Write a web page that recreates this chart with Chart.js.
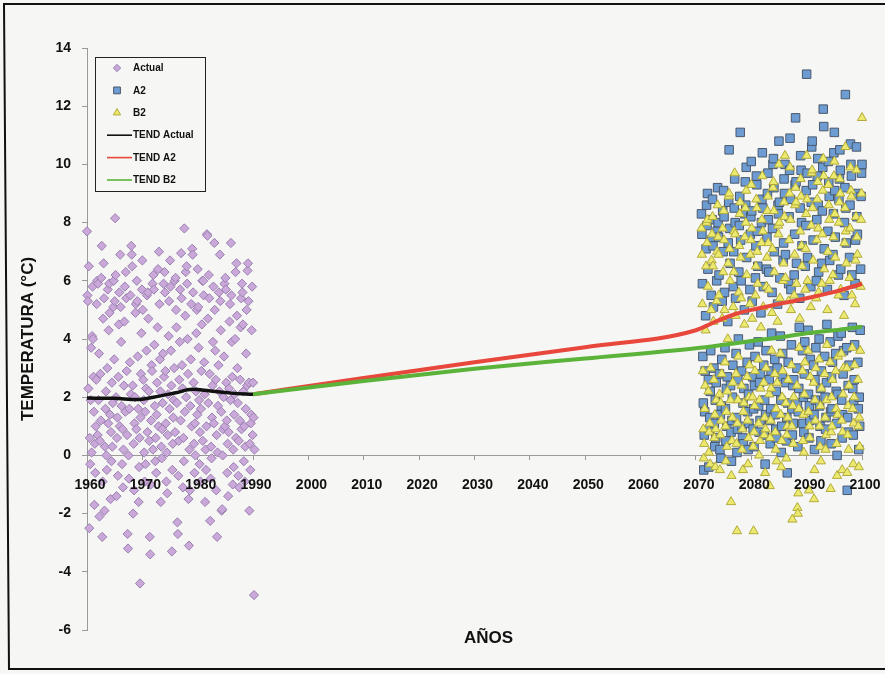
<!DOCTYPE html>
<html>
<head>
<meta charset="utf-8">
<title>Temperatura mensual: actual y escenarios A2 / B2</title>
<script src="https://cdn.jsdelivr.net/npm/chart.js@4/dist/chart.umd.min.js"></script>
<style>
  html, body { margin: 0; padding: 0; background: #f6f6f4; }
  #wrap { width: 885px; height: 674px; position: relative; }
</style>
</head>
<body>
<div id="wrap"><canvas id="c" width="885" height="674"></canvas></div>
<script>
// ---- Monthly temperatures (°C) ----
// Observed period, one value per month starting January 1960
const actualStart = 1960;
const actualTemps = [
  7.7, 5.5, 5.3, 2.3, 6.5, -2.5, 0.6, -0.3, 1.9, 3.7, 0.1, 4.1,
  5.8, 4.0, 2.7, 1.5, -1.7, 0.4, -0.6, 1.0, 2.6, 5.2, 6.0, 0.7,
  5.9, 1.9, 3.5, -2.1, 0.5, 2.8, 1.2, 6.1, 7.2, -2.8, -0.9, 4.7,
  6.6, 5.4, -1.9, 0.3, 1.6, 2.2, 0.0, -0.5, 3.0, 5.7, 1.1, 4.3,
  5.9, 4.9, 1.4, -1.5, 0.8, -0.2, 2.5, 0.3, 1.8, 5.1, 6.0, 3.3,
  5.3, 8.15, 6.2, 2.0, -1.4, 0.6, 1.3, -0.7, 2.7, 4.5, 5.6, 1.0,
  6.9, 5.1, 3.9, 1.7, -0.3, 0.9, -1.1, 0.2, 2.4, 4.6, 5.8, 1.5,
  6.3, 5.4, 2.9, 0.7, -2.7, -3.2, 0.0, -0.8, 1.6, 3.2, 5.5, 2.1,
  7.2, 6.9, 6.5, 2.4, -2.0, 0.4, -1.2, 1.1, 2.0, 4.9, 5.2, 0.9,
  6.0, 5.3, 3.4, 1.6, -1.6, -0.4, 0.6, -4.4, 1.3, 2.8, 4.2, 5.7,
  6.7, 5.0, 2.6, 1.9, 0.1, -0.9, 1.5, -0.3, 2.3, 3.6, 5.5, 0.8,
  5.6, 4.7, 2.2, 0.5, -2.8, -3.4, -1.0, 1.2, 3.1, 2.9, 5.9, 0.2,
  6.2, 5.7, 3.8, 1.7, -0.2, 0.6, -0.6, 1.4, 2.5, 4.4, 6.4, 1.0,
  7.0, 5.2, 3.3, 2.2, -1.6, 0.3, -0.1, 0.9, 1.8, 3.5, 5.9, 2.7,
  6.3, 5.6, 2.9, 1.1, -0.9, 0.1, -1.3, 0.7, 2.1, 4.1, 5.3, 1.6,
  6.7, 5.8, 3.6, 2.4, -3.3, -0.5, 0.4, 1.3, 1.9, 3.0, 6.0, 0.8,
  6.1, 5.0, 4.4, 1.8, -2.3, -2.7, -0.7, 0.5, 2.6, 3.9, 5.7, 1.2,
  6.95, 5.4, 3.1, 2.3, -1.1, 0.6, -0.2, 7.8, 1.5, 4.8, 6.3, 2.0,
  6.5, 5.9, 4.0, 2.8, -1.5, -3.1, 0.2, -1.2, 1.7, 3.3, 5.2, 1.0,
  7.1, 6.9, 5.6, 2.5, 0.4, -0.6, 1.1, 0.0, 2.2, 4.2, 5.0, 1.4,
  6.4, 5.1, 3.7, 1.9, -0.3, 0.8, -0.9, 1.6, 2.9, 4.5, 6.0, 0.5,
  6.0, 5.5, 3.2, 2.1, -1.6, 0.2, -0.5, 1.0, 7.6, 7.55, 4.7, 1.8,
  6.2, 5.4, 2.8, -2.25, -0.8, 0.3, -0.1, 1.3, 2.4, 3.9, 5.8, 1.1,
  7.3, 5.0, 3.6, 2.6, -1.2, 0.7, -2.8, 0.1, 1.7, 3.1, 5.6, 2.2,
  6.9, 5.3, 4.3, 1.5, -1.9, -1.85, 0.0, 0.9, 2.0, 3.4, 5.9, 1.0,
  6.1, 5.7, 2.5, 1.2, -0.6, 0.4, -1.4, 0.8, 2.3, 4.6, 5.2, 1.9,
  7.3, 5.5, 3.9, 2.7, -1.0, 0.2, -0.4, 1.4, 2.1, 4.0, 6.3, 0.6,
  6.6, 4.8, 3.0, 1.8, -0.7, 0.5, -1.1, 1.2, 2.6, 4.4, 5.4, 0.9,
  5.9, 5.6, 4.5, 2.2, -0.2, 1.0, -0.9, 0.3, 1.6, 3.5, 5.0, 2.4,
  6.35, 6.6, 5.3, 2.5, -1.9, 0.4, -0.5, 1.1, 1.4, 4.3, 5.8, 0.7,
  2.5, 1.3, -4.8, 0.2
];

// Scenario A2, one value per month starting January 2071
const scenarioStart = 2071;
const a2Temps = [
  8.3, 7.6, 5.9, 3.4, 1.8, -0.5, 0.7, 1.5, 2.9, 4.8, 7.1, 8.6,
  7.9, 9.0, 6.4, 2.6, -0.4, 0.9, 1.3, 2.2, 3.6, 5.5, 7.4, 8.1,
  8.8, 7.2, 5.1, 3.0, 1.1, 0.3, 1.9, 0.6, 2.5, 6.0, 7.7, 9.2,
  8.0, 7.5, 6.2, 2.8, 0.2, 1.4, -0.1, 1.7, 3.3, 5.3, 8.4, 7.0,
  9.1, 8.2, 5.6, 3.7, 1.6, 0.5, 2.3, 1.0, 2.7, 4.6, 7.3, 8.7,
  10.5, 7.8, 6.6, 2.4, 0.8, -0.2, 1.2, 2.0, 3.1, 5.8, 7.0, 8.5,
  9.5, 8.0, 5.4, 3.5, 1.3, 0.1, 0.9, 2.6, 4.0, 6.3, 7.9, 8.9,
  11.1, 7.4, 6.0, 2.9, 1.0, 0.6, 1.8, 0.4, 2.3, 5.0, 8.3, 9.4,
  8.6, 9.9, 6.8, 3.2, 1.5, 0.2, 2.1, 1.1, 3.8, 5.7, 7.6, 8.2,
  10.1, 8.4, 5.3, 2.7, 0.9, 1.6, 0.3, 2.4, 3.4, 6.1, 7.2, 9.6,
  9.3, 7.7, 6.5, 3.9, 1.7, 0.8, 2.5, 1.2, 2.8, 4.9, 8.0, 8.8,
  10.4, 8.5, 5.8, 3.1, 0.7, 1.9, -0.3, 1.4, 3.6, 6.4, 7.5, 9.0,
  9.7, 8.1, 6.3, 2.6, 1.2, 0.4, 1.6, 2.9, 4.2, 5.6, 7.8, 10.0,
  10.2, 9.2, 7.0, 3.3, 1.4, 0.9, 2.2, 0.6, 3.0, 5.2, 8.6, 8.3,
  10.8, 8.7, 6.1, 4.1, 1.9, 0.1, 1.0, 2.7, 3.5, 6.7, 7.3, 9.5,
  9.0, 10.0, 6.9, 2.5, 0.5, 1.3, -0.6, 1.8, 3.2, 5.9, 8.2, 9.8,
  10.9, 8.8, 5.7, 3.8, 1.6, 0.7, 2.4, 1.1, 2.6, 6.2, 7.6, 9.3,
  11.6, 9.4, 6.6, 3.0, 1.8, 0.3, 1.5, 2.3, 4.4, 5.4, 8.5, 10.3,
  9.8, 8.0, 7.2, 3.6, 1.1, 2.0, 0.8, 2.8, 3.9, 6.5, 7.9, 9.1,
  13.1, 9.7, 6.8, 4.3, 2.1, 0.6, 1.7, 1.2, 3.3, 5.8, 8.7, 10.6,
  10.8, 9.3, 7.4, 3.1, 1.4, 0.2, 2.6, 1.9, 3.7, 6.0, 8.1, 9.6,
  10.2, 8.6, 6.3, 4.0, 1.7, 1.0, 2.3, 0.5, 2.9, 6.6, 8.4, 9.9,
  11.9, 11.3, 7.1, 3.4, 2.0, 0.9, 1.3, 2.5, 4.5, 5.7, 7.7, 10.1,
  9.4, 8.9, 6.7, 3.9, 1.5, 0.4, 2.7, 1.6, 3.2, 6.9, 8.3, 10.4,
  11.1, 9.1, 7.5, 3.5, 2.2, 1.1, 0.0, 2.1, 4.1, 6.2, 8.8, 9.5,
  10.5, 9.8, 6.4, 4.2, 1.9, 0.6, 1.4, 2.8, 3.6, 5.5, 8.0, 9.2,
  12.4, 8.5, 7.3, 3.7, -1.2, 1.3, 2.4, 0.8, 3.1, 6.8, 8.6, 10.7,
  10.0, 9.6, 6.2, 4.4, 2.3, 0.7, 1.8, 2.6, 3.8, 5.9, 7.4, 9.0,
  10.6, 8.2, 7.6, 3.2, 1.6, 0.2, 2.0, 1.0, 4.3, 6.4, 8.9, 9.7,
  10.0, 9.3, 6.9, 4.6, 2.5, 1.2, 0.4, 1.5, 3.3, 7.1, 8.1, 5.8
];

// Scenario B2, one value per month starting January 2071
const b2Temps = [
  7.8, 6.9, 5.2, 2.9, 0.9, -0.1, 0.4, 1.6, 2.4, 4.3, 6.5, 8.0,
  7.3, 8.1, 5.8, 2.2, 0.1, 0.8, 1.1, -0.3, 3.0, 5.0, 6.7, 7.6,
  8.2, 6.5, 4.6, 2.6, 0.6, 1.4, -0.4, 0.9, 1.9, 5.3, 7.0, 8.6,
  7.5, 6.9, 5.5, 2.1, -0.5, 0.7, 1.8, 1.2, 2.8, 4.7, 7.8, 6.3,
  8.4, 7.4, 5.0, 3.2, 1.0, -0.2, 1.5, 0.3, 2.2, 4.0, 6.6, 8.9,
  9.0, 7.1, 6.0, 1.9, -1.6, -0.7, 0.5, 1.3, 2.5, 5.1, 6.3, 7.7,
  9.7, 7.6, 4.8, 2.8, 0.4, -2.6, 1.1, 1.9, 3.4, 5.6, 7.2, 8.3,
  8.7, 6.8, 5.4, 2.4, 0.2, 0.9, -0.5, 1.5, 1.8, 4.5, 7.5, 8.5,
  8.0, 9.1, 6.2, 2.7, 1.2, -0.3, 0.6, 2.0, 3.1, 5.2, 6.9, 7.4,
  9.3, 7.8, 4.7, 2.0, 0.3, -2.6, 0.8, 1.7, 2.9, 5.5, 6.5, 8.8,
  8.5, 7.0, 5.9, 3.3, 1.1, 0.0, 1.9, 0.5, 2.3, 4.4, 7.3, 8.1,
  9.6, 7.7, 5.1, 2.5, 0.7, 1.3, -0.6, 0.9, 3.0, 5.8, 6.8, 8.4,
  8.9, 7.3, 5.7, 2.1, -1.05, 0.6, 1.2, 2.3, 3.6, 4.9, 7.1, 9.2,
  9.4, 8.4, 6.3, 2.8, 0.8, 0.2, 1.6, -0.2, 2.5, 4.6, 7.9, 7.6,
  10.0, 8.0, 5.4, 3.5, 1.4, -0.4, 0.5, 2.0, 2.9, 6.0, 6.6, 8.7,
  8.2, 10.3, 6.1, 1.8, -0.1, 0.7, 1.0, 1.3, 2.6, 5.3, 7.4, 9.0,
  9.9, 8.1, 5.0, 3.1, 1.0, -2.2, 1.7, 0.4, 2.0, 5.5, 6.9, 8.6,
  9.2, 8.7, 5.9, 2.4, -1.8, -2.0, -1.3, 1.6, 3.7, 4.7, 7.7, 9.5,
  8.9, 7.2, 6.5, 2.9, 0.5, 1.4, 0.1, 2.1, 3.2, 5.7, 7.1, 8.3,
  10.3, 8.8, 6.0, 3.6, 1.5, -1.2, 1.0, 0.6, 2.7, 5.1, 7.9, 9.7,
  9.8, 8.5, 6.7, 2.5, -1.5, -0.5, 1.9, 1.2, 3.0, 5.4, 7.4, 8.8,
  9.4, 7.8, 5.6, 3.3, 1.0, 0.3, 1.7, -0.2, 2.3, 5.9, 7.6, 9.1,
  10.2, 9.6, 6.4, 2.8, 1.3, 0.2, 0.7, 1.9, 3.8, 5.0, 7.0, 9.3,
  8.6, 8.1, 6.0, 3.2, -1.15, 0.8, 2.0, 1.0, 2.6, 6.2, 7.5, 9.6,
  10.1, 8.3, 6.8, 2.9, 1.6, 0.4, -0.7, 1.4, 3.4, 5.5, 8.0, 8.7,
  9.5, 9.0, 5.7, 3.5, 1.2, -0.5, 0.8, 2.1, 3.0, 4.8, 7.3, 8.5,
  10.6, 7.7, 6.6, 3.0, -0.6, 0.7, 1.7, 0.2, 2.4, 6.1, 7.8, 9.9,
  9.1, 8.9, 5.5, 3.7, 1.6, -0.3, 1.1, 2.0, 3.1, 5.2, 6.7, 8.2,
  9.8, 7.5, 6.9, 2.6, 1.0, -0.4, 1.3, 0.3, 3.6, 5.8, 8.1, 9.0,
  11.6, 8.6, 6.2, 4.0, 1.9, -2.7, -0.2, 0.9, 2.7, 6.4, 7.3, 5.1
];

// Trend curves (year, °C)
const trendActualYears = [1960, 1965, 1969, 1972, 1976, 1979, 1982, 1986, 1990];
const trendActualTemps = [1.97, 1.96, 1.92, 2.0, 2.15, 2.27, 2.22, 2.14, 2.1];
const trendA2Years = [1990, 2010, 2030, 2050, 2070, 2073, 2077, 2080, 2085, 2090, 2095, 2100];
const trendA2Temps = [2.1, 2.66, 3.2, 3.72, 4.3, 4.55, 4.85, 5.0, 5.2, 5.4, 5.62, 5.9];
const trendB2Years = [1990, 2010, 2030, 2050, 2070, 2075, 2080, 2085, 2090, 2095, 2100];
const trendB2Temps = [2.1, 2.56, 2.98, 3.33, 3.68, 3.8, 3.93, 4.05, 4.2, 4.3, 4.42];

// Axis settings
const yearMin = 1960, yearMax = 2100, yearStep = 10;
const tempMin = -6, tempMax = 14, tempStep = 2;

const seriesNames = ['Actual', 'A2', 'B2', 'TEND Actual', 'TEND A2', 'TEND B2'];

// ---- helpers to turn the lists into chart points ----
const monthly = (start, values) => values.map((v, i) => ({ x: start + i / 12, y: v }));
const paired = (xs, ys) => xs.map((x, i) => ({ x, y: ys[i] }));

const BG = '#f6f6f4';
const FONT = '"Liberation Sans", Arial, Helvetica, sans-serif';

// Page background and outer frame
const frame = {
  id: 'frame',
  beforeDraw(chart) {
    const { ctx, width, height } = chart;
    ctx.save();
    ctx.fillStyle = BG;
    ctx.fillRect(0, 0, width, height);
    ctx.strokeStyle = '#111';
    ctx.lineWidth = 2;
    ctx.beginPath();
    ctx.moveTo(width + 10, 4);
    ctx.lineTo(4, 4);
    ctx.lineTo(9, height - 5);
    ctx.lineTo(width + 10, height - 5);
    ctx.stroke();
    ctx.restore();
  }
};

// Boxed legend placed in the upper-left corner of the plot, plus the x-axis caption
const insideLegend = {
  id: 'insideLegend',
  afterDraw(chart) {
    const { ctx, chartArea } = chart;
    const x0 = chartArea.left + 8, y0 = chartArea.top + 9, w = 110, h = 134;
    ctx.save();
    ctx.fillStyle = BG;
    ctx.fillRect(x0, y0, w, h);
    ctx.strokeStyle = '#222';
    ctx.lineWidth = 1;
    ctx.strokeRect(x0 + 0.5, y0 + 0.5, w, h);
    ctx.font = 'bold 10px ' + FONT;
    ctx.textBaseline = 'middle';
    ctx.textAlign = 'left';
    chart.data.datasets.forEach((ds, i) => {
      const cy = y0 + 11 + i * 22.4;
      if (ds.showLine) {
        ctx.strokeStyle = ds.borderColor;
        ctx.lineWidth = 1.6;
        ctx.beginPath();
        ctx.moveTo(x0 + 12, cy);
        ctx.lineTo(x0 + 37, cy);
        ctx.stroke();
      } else {
        ctx.fillStyle = ds.backgroundColor;
        ctx.strokeStyle = ds.borderColor;
        ctx.lineWidth = 1;
        Chart.helpers.drawPoint(ctx, {
          pointStyle: ds.pointStyle, radius: ds.pointRadius * 0.8, rotation: 0, borderWidth: 1
        }, x0 + 22, cy);
      }
      ctx.fillStyle = '#111';
      ctx.fillText(ds.label, x0 + 38, cy + 0.5);
    });
    // x-axis caption
    ctx.font = 'bold 17px ' + FONT;
    ctx.textAlign = 'center';
    ctx.textBaseline = 'middle';
    ctx.fillStyle = '#111';
    ctx.fillText('AÑOS', (chartArea.left + chartArea.right) / 2 + 14, chartArea.bottom + 8);
    ctx.restore();
  }
};

const scatterSet = (label, data, style, fill, edge, radius, order) => ({
  label, data, pointStyle: style, pointRadius: radius, pointBorderWidth: 1,
  backgroundColor: fill, borderColor: edge, pointBackgroundColor: fill, pointBorderColor: edge,
  showLine: false, clip: false, order
});
const trendSet = (label, data, color, width, order) => ({
  label, data, borderColor: color, backgroundColor: color, borderWidth: width,
  pointRadius: 0, showLine: true, cubicInterpolationMode: 'monotone', clip: false, order
});

new Chart(document.getElementById('c'), {
  type: 'scatter',
  data: {
    datasets: [
      scatterSet(seriesNames[0], monthly(actualStart, actualTemps), 'rectRot', '#caa9da', '#9a80b0', 4.6, 6),
      scatterSet(seriesNames[1], monthly(scenarioStart, a2Temps), 'rect', '#6d9cd2', '#4a586c', 6, 5),
      scatterSet(seriesNames[2], monthly(scenarioStart, b2Temps), 'triangle', '#ece96f', '#b3ab3a', 5.3, 4),
      trendSet(seriesNames[3], paired(trendActualYears, trendActualTemps), '#111111', 3.5, 3),
      trendSet(seriesNames[4], paired(trendA2Years, trendA2Temps), '#e8473b', 4, 2),
      trendSet(seriesNames[5], paired(trendB2Years, trendB2Temps), '#5bb33a', 4, 1)
    ]
  },
  options: {
    responsive: false,
    animation: false,
    events: [],
    layout: { padding: { top: 48, bottom: 44, left: 0, right: 23 } },
    plugins: { legend: { display: false }, tooltip: { enabled: false }, title: { display: false } },
    scales: {
      x: {
        type: 'linear',
        position: { y: 0 },
        min: yearMin, max: yearMax,
        afterFit(scale) { scale.paddingLeft = 0; scale.paddingRight = 0; },
        grid: { drawOnChartArea: false, drawTicks: true, tickLength: 4, color: '#9a9a9a' },
        border: { display: true, color: '#9a9a9a', width: 1 },
        ticks: {
          z: 1,
          stepSize: yearStep, padding: 17, labelOffset: 3, maxRotation: 0, autoSkip: false,
          color: '#111', font: { family: FONT, size: 14, weight: 'bold' },
          callback: v => String(v)
        }
      },
      y: {
        type: 'linear',
        position: 'left',
        min: tempMin, max: tempMax,
        afterFit(scale) { scale.width = 87; },
        grid: { drawOnChartArea: false, drawTicks: true, tickLength: 5, color: '#9a9a9a' },
        border: { display: true, color: '#9a9a9a', width: 1 },
        ticks: {
          stepSize: tempStep, padding: 11,
          color: '#111', font: { family: FONT, size: 14, weight: 'bold' },
          callback: v => String(v)
        },
        title: {
          display: true, text: 'TEMPERATURA (°C)', color: '#111',
          font: { family: FONT, size: 17, weight: 'bold' },
          padding: { top: 18, bottom: 0 }
        }
      }
    }
  },
  plugins: [frame, insideLegend]
});
</script>
</body>
</html>
